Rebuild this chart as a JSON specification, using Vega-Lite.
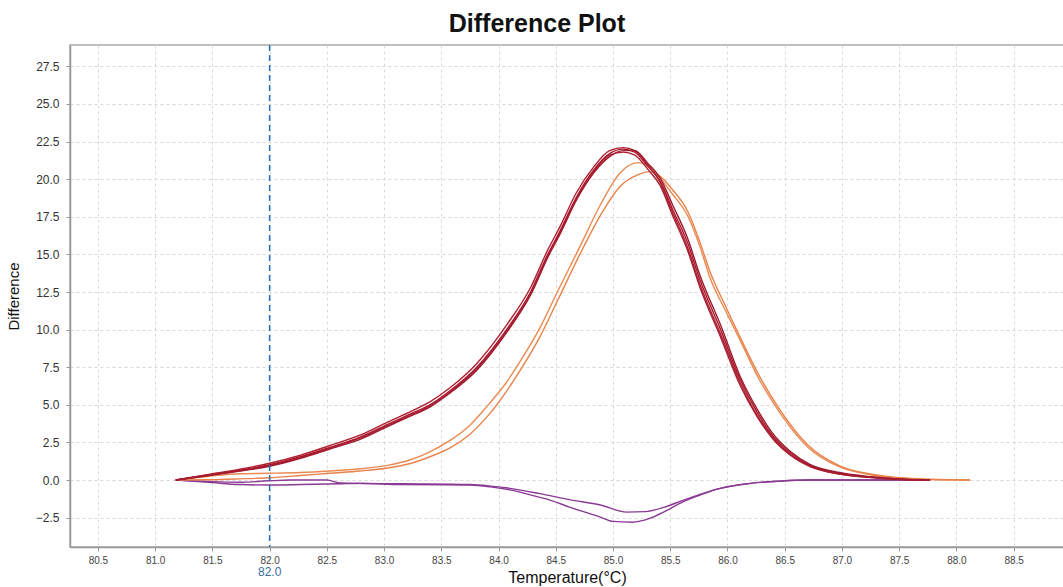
{
  "$schema": "https://vega.github.io/schema/vega-lite/v6.json",
  "autosize": {"type": "none"},
  "padding": {"left": 70, "top": 45, "right": 0, "bottom": 40},
  "width": 994,
  "height": 502,
  "background": "white",
  "title": {"text": "Difference Plot", "font": "Liberation Sans", "fontSize": 25, "fontWeight": "bold", "color": "#111111", "anchor": "middle", "frame": "group", "dx": -30, "dy": 26, "baseline": "alphabetic", "offset": 13},
  "config": {
    "view": {"stroke": "#aaaaaa", "strokeWidth": 1.5},
    "axis": {"labelFont": "Liberation Sans", "titleFont": "Liberation Sans", "titleFontWeight": "normal", "domainColor": "#999999", "domainWidth": 1.5, "tickColor": "#999999", "tickSize": 4, "gridColor": "#d9d9d9", "gridDash": [3, 3], "gridWidth": 1, "labelColor": "#333333", "titleColor": "#111111"}
  },
  "layer": [
    {
      "data": {"values": [
        {"s":"P1","t":81.18,"v":0},{"s":"P1","t":81.47,"v":-0.1},{"s":"P1","t":81.74,"v":-0.15},{"s":"P1","t":81.99,"v":-0.05},{"s":"P1","t":82.18,"v":0},{"s":"P1","t":82.5,"v":0},{"s":"P1","t":82.62,"v":-0.2},{"s":"P1","t":83.14,"v":-0.25},{"s":"P1","t":83.75,"v":-0.3},{"s":"P1","t":83.93,"v":-0.4},{"s":"P1","t":84.1,"v":-0.55},{"s":"P1","t":84.36,"v":-0.9},{"s":"P1","t":84.62,"v":-1.3},{"s":"P1","t":84.89,"v":-1.66},{"s":"P1","t":85.12,"v":-2.13},{"s":"P1","t":85.28,"v":-2.1},{"s":"P1","t":85.45,"v":-1.8},{"s":"P1","t":85.61,"v":-1.35},{"s":"P1","t":85.76,"v":-0.95},{"s":"P1","t":85.91,"v":-0.6},{"s":"P1","t":86.2,"v":-0.22},{"s":"P1","t":86.46,"v":-0.07},{"s":"P1","t":86.7,"v":0},{"s":"P1","t":87.77,"v":0},
        {"s":"P2","t":81.18,"v":0},{"s":"P2","t":81.47,"v":-0.15},{"s":"P2","t":81.74,"v":-0.3},{"s":"P2","t":81.99,"v":-0.33},{"s":"P2","t":82.27,"v":-0.3},{"s":"P2","t":82.62,"v":-0.25},{"s":"P2","t":82.79,"v":-0.22},{"s":"P2","t":83.14,"v":-0.3},{"s":"P2","t":83.75,"v":-0.33},{"s":"P2","t":83.93,"v":-0.45},{"s":"P2","t":84.1,"v":-0.65},{"s":"P2","t":84.36,"v":-1.15},{"s":"P2","t":84.45,"v":-1.33},{"s":"P2","t":84.62,"v":-1.8},{"s":"P2","t":84.89,"v":-2.46},{"s":"P2","t":85.0,"v":-2.75},{"s":"P2","t":85.17,"v":-2.8},{"s":"P2","t":85.32,"v":-2.55},{"s":"P2","t":85.45,"v":-2.1},{"s":"P2","t":85.61,"v":-1.45},{"s":"P2","t":85.76,"v":-1.0},{"s":"P2","t":85.91,"v":-0.6},{"s":"P2","t":86.2,"v":-0.22},{"s":"P2","t":86.46,"v":-0.07},{"s":"P2","t":86.7,"v":0},{"s":"P2","t":87.77,"v":0},
        {"s":"O1","t":81.18,"v":0},{"s":"O1","t":81.47,"v":0.25},{"s":"O1","t":81.74,"v":0.42},{"s":"O1","t":81.99,"v":0.45},{"s":"O1","t":82.27,"v":0.5},{"s":"O1","t":82.52,"v":0.6},{"s":"O1","t":82.79,"v":0.75},{"s":"O1","t":83.03,"v":0.98},{"s":"O1","t":83.23,"v":1.35},{"s":"O1","t":83.4,"v":1.88},{"s":"O1","t":83.58,"v":2.65},{"s":"O1","t":83.75,"v":3.65},{"s":"O1","t":83.91,"v":5.0},{"s":"O1","t":84.06,"v":6.4},{"s":"O1","t":84.19,"v":7.9},{"s":"O1","t":84.36,"v":10.1},{"s":"O1","t":84.52,"v":12.6},{"s":"O1","t":84.71,"v":15.5},{"s":"O1","t":84.89,"v":18.3},{"s":"O1","t":85.06,"v":20.4},{"s":"O1","t":85.22,"v":21.1},{"s":"O1","t":85.32,"v":20.9},{"s":"O1","t":85.41,"v":20.1},{"s":"O1","t":85.52,"v":19.0},{"s":"O1","t":85.65,"v":17.6},{"s":"O1","t":85.76,"v":15.5},{"s":"O1","t":85.85,"v":13.4},{"s":"O1","t":85.98,"v":11.3},{"s":"O1","t":86.11,"v":9.3},{"s":"O1","t":86.28,"v":6.65},{"s":"O1","t":86.46,"v":4.45},{"s":"O1","t":86.7,"v":2.2},{"s":"O1","t":86.98,"v":0.87},{"s":"O1","t":87.25,"v":0.35},{"s":"O1","t":87.51,"v":0.12},{"s":"O1","t":87.77,"v":0.03},{"s":"O1","t":88.12,"v":0},
        {"s":"O2","t":81.18,"v":0},{"s":"O2","t":81.47,"v":0.02},{"s":"O2","t":81.74,"v":0.08},{"s":"O2","t":81.99,"v":0.15},{"s":"O2","t":82.27,"v":0.3},{"s":"O2","t":82.52,"v":0.45},{"s":"O2","t":82.79,"v":0.6},{"s":"O2","t":83.03,"v":0.8},{"s":"O2","t":83.23,"v":1.1},{"s":"O2","t":83.4,"v":1.55},{"s":"O2","t":83.58,"v":2.15},{"s":"O2","t":83.75,"v":3.05},{"s":"O2","t":83.91,"v":4.3},{"s":"O2","t":84.06,"v":5.8},{"s":"O2","t":84.19,"v":7.3},{"s":"O2","t":84.36,"v":9.5},{"s":"O2","t":84.52,"v":12.0},{"s":"O2","t":84.71,"v":15.0},{"s":"O2","t":84.89,"v":17.6},{"s":"O2","t":85.06,"v":19.5},{"s":"O2","t":85.22,"v":20.3},{"s":"O2","t":85.32,"v":20.5},{"s":"O2","t":85.41,"v":20.2},{"s":"O2","t":85.52,"v":19.3},{"s":"O2","t":85.65,"v":17.9},{"s":"O2","t":85.76,"v":15.8},{"s":"O2","t":85.85,"v":13.8},{"s":"O2","t":85.98,"v":11.6},{"s":"O2","t":86.11,"v":9.5},{"s":"O2","t":86.28,"v":6.9},{"s":"O2","t":86.46,"v":4.65},{"s":"O2","t":86.7,"v":2.35},{"s":"O2","t":86.98,"v":0.95},{"s":"O2","t":87.25,"v":0.4},{"s":"O2","t":87.51,"v":0.15},{"s":"O2","t":87.77,"v":0.05},{"s":"O2","t":88.12,"v":0},
        {"s":"R1","t":81.18,"v":0},{"s":"R1","t":81.47,"v":0.35},{"s":"R1","t":81.74,"v":0.65},{"s":"R1","t":81.99,"v":1.0},{"s":"R1","t":82.27,"v":1.55},{"s":"R1","t":82.52,"v":2.15},{"s":"R1","t":82.79,"v":2.85},{"s":"R1","t":83.03,"v":3.7},{"s":"R1","t":83.23,"v":4.4},{"s":"R1","t":83.4,"v":5.0},{"s":"R1","t":83.57,"v":5.9},{"s":"R1","t":83.81,"v":7.5},{"s":"R1","t":84.07,"v":10.0},{"s":"R1","t":84.28,"v":12.5},{"s":"R1","t":84.43,"v":15.0},{"s":"R1","t":84.54,"v":16.6},{"s":"R1","t":84.68,"v":18.8},{"s":"R1","t":84.83,"v":20.6},{"s":"R1","t":84.97,"v":21.7},{"s":"R1","t":85.09,"v":22.0},{"s":"R1","t":85.19,"v":21.8},{"s":"R1","t":85.31,"v":20.8},{"s":"R1","t":85.41,"v":19.9},{"s":"R1","t":85.52,"v":18.0},{"s":"R1","t":85.65,"v":15.8},{"s":"R1","t":85.76,"v":13.3},{"s":"R1","t":85.94,"v":10.0},{"s":"R1","t":86.11,"v":6.7},{"s":"R1","t":86.26,"v":4.5},{"s":"R1","t":86.39,"v":3.0},{"s":"R1","t":86.55,"v":1.8},{"s":"R1","t":86.72,"v":1.0},{"s":"R1","t":86.98,"v":0.45},{"s":"R1","t":87.25,"v":0.2},{"s":"R1","t":87.51,"v":0.05},{"s":"R1","t":87.77,"v":0},
        {"s":"R2","t":81.18,"v":0},{"s":"R2","t":81.47,"v":0.38},{"s":"R2","t":81.74,"v":0.72},{"s":"R2","t":81.99,"v":1.1},{"s":"R2","t":82.27,"v":1.65},{"s":"R2","t":82.52,"v":2.28},{"s":"R2","t":82.79,"v":2.98},{"s":"R2","t":83.03,"v":3.85},{"s":"R2","t":83.23,"v":4.55},{"s":"R2","t":83.4,"v":5.2},{"s":"R2","t":83.57,"v":6.1},{"s":"R2","t":83.81,"v":7.75},{"s":"R2","t":84.07,"v":10.3},{"s":"R2","t":84.28,"v":12.8},{"s":"R2","t":84.43,"v":15.3},{"s":"R2","t":84.54,"v":16.9},{"s":"R2","t":84.68,"v":19.1},{"s":"R2","t":84.83,"v":20.8},{"s":"R2","t":84.97,"v":21.9},{"s":"R2","t":85.09,"v":22.1},{"s":"R2","t":85.19,"v":21.9},{"s":"R2","t":85.31,"v":20.9},{"s":"R2","t":85.41,"v":19.8},{"s":"R2","t":85.52,"v":17.8},{"s":"R2","t":85.65,"v":15.5},{"s":"R2","t":85.76,"v":13.0},{"s":"R2","t":85.94,"v":9.7},{"s":"R2","t":86.11,"v":6.5},{"s":"R2","t":86.26,"v":4.3},{"s":"R2","t":86.39,"v":2.9},{"s":"R2","t":86.55,"v":1.7},{"s":"R2","t":86.72,"v":0.95},{"s":"R2","t":86.98,"v":0.4},{"s":"R2","t":87.25,"v":0.18},{"s":"R2","t":87.51,"v":0.05},{"s":"R2","t":87.77,"v":0},
        {"s":"R3","t":81.18,"v":0},{"s":"R3","t":81.47,"v":0.3},{"s":"R3","t":81.74,"v":0.6},{"s":"R3","t":81.99,"v":0.9},{"s":"R3","t":82.27,"v":1.45},{"s":"R3","t":82.52,"v":2.05},{"s":"R3","t":82.79,"v":2.7},{"s":"R3","t":83.03,"v":3.55},{"s":"R3","t":83.23,"v":4.25},{"s":"R3","t":83.4,"v":4.85},{"s":"R3","t":83.57,"v":5.75},{"s":"R3","t":83.81,"v":7.3},{"s":"R3","t":84.07,"v":9.8},{"s":"R3","t":84.28,"v":12.3},{"s":"R3","t":84.43,"v":14.8},{"s":"R3","t":84.54,"v":16.4},{"s":"R3","t":84.68,"v":18.6},{"s":"R3","t":84.83,"v":20.4},{"s":"R3","t":84.97,"v":21.5},{"s":"R3","t":85.09,"v":21.9},{"s":"R3","t":85.19,"v":21.9},{"s":"R3","t":85.31,"v":21.0},{"s":"R3","t":85.41,"v":20.1},{"s":"R3","t":85.52,"v":18.3},{"s":"R3","t":85.65,"v":16.1},{"s":"R3","t":85.76,"v":13.6},{"s":"R3","t":85.94,"v":10.3},{"s":"R3","t":86.11,"v":6.9},{"s":"R3","t":86.26,"v":4.7},{"s":"R3","t":86.39,"v":3.15},{"s":"R3","t":86.55,"v":1.9},{"s":"R3","t":86.72,"v":1.05},{"s":"R3","t":86.98,"v":0.5},{"s":"R3","t":87.25,"v":0.22},{"s":"R3","t":87.51,"v":0.06},{"s":"R3","t":87.77,"v":0},
        {"s":"R4","t":81.18,"v":0},{"s":"R4","t":81.47,"v":0.32},{"s":"R4","t":81.74,"v":0.62},{"s":"R4","t":81.99,"v":0.95},{"s":"R4","t":82.27,"v":1.5},{"s":"R4","t":82.52,"v":2.1},{"s":"R4","t":82.79,"v":2.8},{"s":"R4","t":83.03,"v":3.62},{"s":"R4","t":83.23,"v":4.32},{"s":"R4","t":83.4,"v":4.92},{"s":"R4","t":83.57,"v":5.82},{"s":"R4","t":83.81,"v":7.4},{"s":"R4","t":84.07,"v":9.9},{"s":"R4","t":84.28,"v":12.4},{"s":"R4","t":84.43,"v":14.9},{"s":"R4","t":84.54,"v":16.5},{"s":"R4","t":84.68,"v":18.7},{"s":"R4","t":84.83,"v":20.5},{"s":"R4","t":84.97,"v":21.6},{"s":"R4","t":85.09,"v":21.8},{"s":"R4","t":85.19,"v":21.6},{"s":"R4","t":85.31,"v":20.6},{"s":"R4","t":85.41,"v":19.6},{"s":"R4","t":85.52,"v":17.6},{"s":"R4","t":85.65,"v":15.3},{"s":"R4","t":85.76,"v":12.8},{"s":"R4","t":85.94,"v":9.5},{"s":"R4","t":86.11,"v":6.3},{"s":"R4","t":86.26,"v":4.2},{"s":"R4","t":86.39,"v":2.8},{"s":"R4","t":86.55,"v":1.65},{"s":"R4","t":86.72,"v":0.9},{"s":"R4","t":86.98,"v":0.4},{"s":"R4","t":87.25,"v":0.17},{"s":"R4","t":87.51,"v":0.04},{"s":"R4","t":87.77,"v":0}
      ]},
      "mark": {"type": "line", "interpolate": "monotone", "strokeWidth": 1.4},
      "encoding": {
        "x": {"field": "t", "type": "quantitative", "scale": {"domain": [80.256, 88.94], "nice": false, "zero": false},
              "axis": {"values": [80.5, 81, 81.5, 82, 82.5, 83, 83.5, 84, 84.5, 85, 85.5, 86, 86.5, 87, 87.5, 88, 88.5], "format": ".1f", "labelFontSize": 10, "labelPadding": 4, "labelColor": "#444444", "title": "Temperature(°C)", "titleFontSize": 16, "titlePadding": 4}},
        "y": {"field": "v", "type": "quantitative", "scale": {"domain": [-4.45, 28.92], "nice": false, "zero": false},
              "axis": {"values": [-2.5, 0, 2.5, 5, 7.5, 10, 12.5, 15, 17.5, 20, 22.5, 25, 27.5], "format": ".1f", "labelFontSize": 12, "labelPadding": 7, "title": "Difference", "titleFontSize": 15, "titlePadding": 14}},
        "color": {"field": "s", "type": "nominal", "legend": null,
                  "scale": {"domain": ["P1", "P2", "O1", "O2", "R1", "R2", "R3", "R4"], "range": ["#8c3a96", "#8a3a94", "#ea8a52", "#e8824a", "#a8192e", "#b0202f", "#9e1a2c", "#a81c32"]}}
      }
    },
    {
      "data": {"values": [{"x": 82.0, "label": "82.0"}]},
      "mark": {"type": "rule", "color": "#2a6ebb", "strokeDash": [6, 4], "strokeWidth": 1.5},
      "encoding": {"x": {"field": "x", "type": "quantitative"}}
    },
    {
      "data": {"values": [{"x": 82.0, "label": "82.0"}]},
      "mark": {"type": "text", "color": "#3a6ea5", "font": "Liberation Sans", "fontSize": 12, "baseline": "middle", "align": "center"},
      "encoding": {"x": {"field": "x", "type": "quantitative"}, "y": {"datum": -6.1}, "text": {"field": "label"}}
    }
  ]
}
